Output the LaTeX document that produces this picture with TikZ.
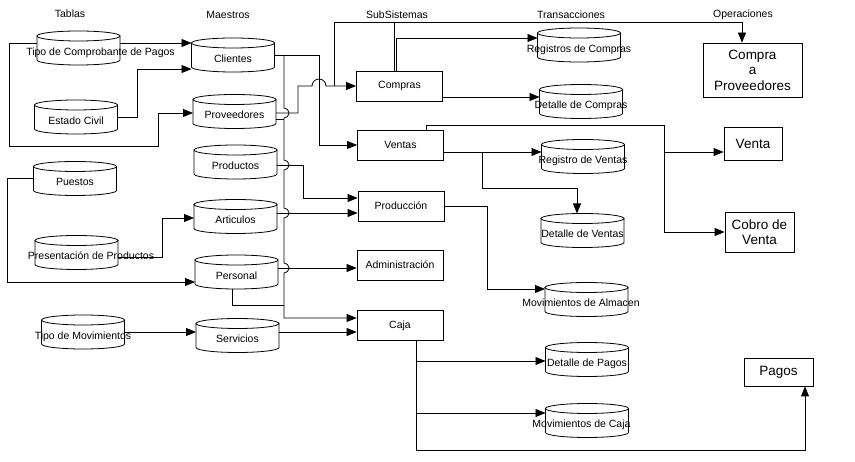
\documentclass[tikz,border=0pt]{standalone}
\usepackage{fontspec}
\setmainfont{Liberation Sans}
\usetikzlibrary{arrows.meta}

% outline of a data store around a (plain) node
\newcommand\cyl[1]{%
  \draw ([yshift=-5pt]#1.north west) -- ([yshift=5pt]#1.south west)
    arc[start angle=180,end angle=360,x radius=41.5pt,y radius=5pt]
    -- ([yshift=-5pt]#1.north east);
  \draw ([yshift=-5pt]#1.north) ellipse[x radius=41.5pt,y radius=5pt];}
% label of a data store, may run past its sides
\newcommand\dbtext[2][0pt]{\makebox[0pt]{\hspace*{#1}#2}}

\begin{document}
\begin{tikzpicture}[x=1pt,y=-1pt,line width=0.8pt,
	font=\fontsize{10.5}{12.6}\selectfont,
	db/.style={minimum width=83pt,minimum height=34pt,inner sep=0pt,outer sep=0pt,text height=15pt,text depth=0pt},
	sub/.style={draw,minimum width=86pt,minimum height=30pt,inner sep=0pt},
	oper/.style={draw,align=center,inner sep=1pt,font=\fontsize{13.5}{15.5}\selectfont},
	arr/.style={-{Triangle[length=10pt,width=8pt]}}]
		\useasboundingbox (0,0) rectangle (855,462);
		
		% Column titles
		\node (tTablas) at (70,14) {Tablas};
		\node (tMaestros) at (228,15) {Maestros};
		\node (tSub) at (397,15) {SubSistemas};
		\node (tTrans) at (571,15) {Transacciones};
		\node (tOper) at (743,15) {Operaciones};
		
		% Tablas
		\node[db] (tcp) at (78.5,48) {\dbtext[44pt]{Tipo de Comprobante de Pagos}};
		\node[db] (ecivil) at (76,117) {\dbtext{Estado Civil}};
		\node[db] (puestos) at (75,178.5) {\dbtext{Puestos}};
		\node[db] (present) at (76.5,252.5) {\dbtext[29pt]{Presentación de Productos}};
		\node[db] (tmov) at (83,332) {\dbtext{Tipo de Movimientos}};
		
		% Maestros
		\node[db] (clientes) at (233,55) {\dbtext{Clientes}};
		\node[db] (proveedores) at (234.5,111.5) {\dbtext{Proveedores}};
		\node[db] (productos) at (235.5,162) {\dbtext{Productos}};
		\node[db] (articulos) at (235.5,216.5) {\dbtext{Articulos}};
		\node[db] (personal) at (236.5,272) {\dbtext{Personal}};
		\node[db] (servicios) at (237.5,335.5) {\dbtext{Servicios}};
		
		% SubSistemas
		\node[sub] (compras) at (399.5,86) {Compras};
		\node[sub] (ventas) at (400.5,145) {Ventas};
		\node[sub] (produccion) at (401,206) {Producción};
		\node[sub] (admin) at (400,265) {Administración};
		\node[sub] (caja) at (400,325.5) {Caja};
		
		% Transacciones
		\node[db] (regcompras) at (579,45) {\dbtext{Registros de Compras}};
		\node[db] (detcompras) at (581,101.5) {\dbtext{Detalle de Compras}};
		\node[db] (regventas) at (583,156.5) {\dbtext{Registro de Ventas}};
		\node[db] (detventas) at (582.5,230.5) {\dbtext{Detalle de Ventas}};
		\node[db] (movalm) at (586.5,299.5) {\dbtext[-11pt]{Movimientos de Almacen}};
		\node[db] (detpagos) at (587,359.5) {\dbtext{Detalle de Pagos}};
		\node[db] (movcaja) at (587,420.5) {\dbtext[-11pt]{Movimientos de Caja}};
		
		\foreach \n in {tcp,ecivil,puestos,present,tmov,clientes,proveedores,productos,articulos,personal,servicios,regcompras,detcompras,regventas,detventas,movalm,detpagos,movcaja}
			{\cyl{\n}}
		
		% Operaciones
		\node[oper,minimum width=99pt,minimum height=54pt] (cprov) at (752.5,70) {Compra\\a\\Proveedores};
		\node[oper,minimum width=58pt,minimum height=33pt] (venta) at (753,143.5) {Venta};
		\node[oper,minimum width=69pt,minimum height=40pt] (cobro) at (759.5,232) {Cobro de\\Venta};
		\node[oper,minimum width=69pt,minimum height=28pt] (pagos) at (778.5,372) {Pagos};
		
		% Tablas -> Maestros
		\draw[arr] ([yshift=5pt]tcp.east) -- ([yshift=12pt]clientes.west);
		\draw[arr] ([yshift=5pt]tcp.west) -- ++(-28,0) |- (158,146) |- ([yshift=-1.5pt]proveedores.west);
		\draw[arr] (ecivil.east) -| (137,69) -- ([yshift=-14pt]clientes.west);
		\draw[arr] (puestos.west) -- ++(-26,0) |- ([yshift=-10pt]personal.west);
		\draw[arr] ([yshift=-4.5pt]present.east) -- ++(44,0) |- ([yshift=-1.5pt]articulos.west);
		\draw[arr] (tmov.east) -- (servicios.west |- tmov.east);
		
		% Maestros -> SubSistemas (bus with hops)
		\coordinate (bus) at (284,55);
		\draw[arr] (clientes.east) -- ++(44.5,0) |- (ventas.west);
		\draw[arr] (bus) -- (284,108) arc[start angle=90,end angle=-90,radius=5pt]
			-- (284,160) arc[start angle=90,end angle=-90,radius=5pt]
			-- (284,208) arc[start angle=90,end angle=-90,radius=5pt]
			-- (284,263) arc[start angle=90,end angle=-90,radius=5pt]
			|- ([yshift=7.5pt]caja.west);
		\draw ([yshift=-7.5pt]proveedores.east) -- (284,119);
		\draw[arr] ([yshift=-1.5pt]proveedores.east) -- ++(22,0) |- (312,86)
			arc[start angle=180,end angle=0,radius=7pt] -- (compras.west);
		\draw[arr] ([yshift=-3pt]productos.east) -| (303,198) -- ([yshift=8pt]produccion.west);
		\draw[arr] ([yshift=3.5pt]articulos.east) -- ([yshift=-7pt]produccion.west);
		\draw[arr] ([yshift=4pt]personal.east) -- ([yshift=-3pt]admin.west);
		\draw ([xshift=-4.5pt]personal.south) |- (284,305);
		\draw[arr] ([yshift=3.5pt]servicios.east) -- ([yshift=-6.5pt]caja.west);
		
		% Compras
		\draw[arr] ([xshift=-21.5pt]compras.west) |- (742,22) -- ([xshift=-10.5pt]cprov.north);
		\draw ([xshift=-5.5pt]compras.north) -- ++(0,-49);
		\draw[arr] ([xshift=-3.5pt]compras.north) |- ([yshift=7pt]regcompras.west);
		\draw[arr] ([yshift=-11pt]compras.east) -- ([yshift=4.5pt]detcompras.west);
		
		% Ventas
		\coordinate (jventa) at (664,152);
		\coordinate (jdet) at (482,152);
		\draw[arr] ([xshift=25.5pt]ventas.north) |- (664,125) |- (cobro.west);
		\draw[arr] (jventa) -- ([yshift=-8.5pt]venta.west);
		\draw[arr] ([yshift=-7pt]ventas.east) -- ([yshift=4.5pt]regventas.west);
		\draw[arr] (jdet) |- (577,188) -- ([xshift=-5.5pt]detventas.north);
		
		% Produccion
		\draw[arr] (produccion.east) -| (487,289) -- ([yshift=10.5pt]movalm.west);
		
		% Caja
		\coordinate (jpagos) at (416,361);
		\coordinate (jmov) at (416,413);
		\draw[arr] ([xshift=16pt]caja.south) |- (805,450) -- ([xshift=26.5pt]pagos.south);
		\draw[arr] (jpagos) -- ([yshift=-1.5pt]detpagos.west);
		\draw[arr] (jmov) -- ([yshift=7.5pt]movcaja.west);
	\end{tikzpicture}
\end{document}
